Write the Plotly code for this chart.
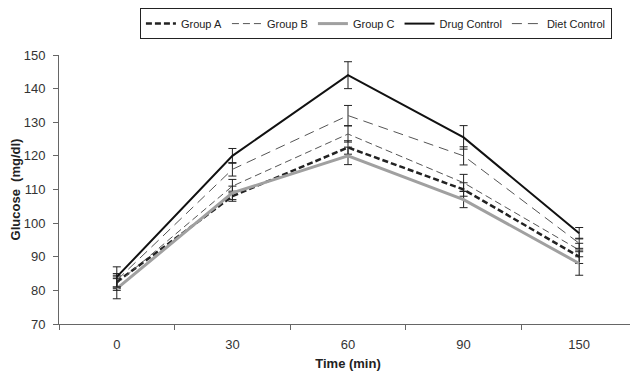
import plotly.graph_objects as go

times = ["0", "30", "60", "90", "150"]

group_a = [82.5, 108, 122.5, 110, 90]
group_a_err = [2.0, 1.5, 2.0, 2.0, 2.0]
group_b = [82, 111, 126.5, 112, 92]
group_b_err = [2.0, 2.0, 2.4, 2.5, 2.0]
group_c = [80.5, 109, 120, 107, 88]
group_c_err = [3.0, 2.0, 2.6, 2.4, 3.5]
drug_control = [84, 120, 144, 125.5, 97]
drug_control_err = [3.0, 2.2, 4.0, 3.5, 1.7]
diet_control = [83, 116, 132, 120, 94]
diet_control_err = [2.0, 2.0, 3.0, 2.7, 1.5]

series = [
    ("Group A", group_a, group_a_err, dict(color="#222222", width=2.5, dash="6px,3px")),
    ("Group B", group_b, group_b_err, dict(color="#555555", width=1, dash="7px,4px")),
    ("Group C", group_c, group_c_err, dict(color="#a0a0a0", width=3)),
    ("Drug Control", drug_control, drug_control_err, dict(color="#111111", width=2)),
    ("Diet Control", diet_control, diet_control_err, dict(color="#555555", width=1, dash="10px,6px")),
]

fig = go.Figure()
for name, vals, errs, line in series:
    fig.add_trace(go.Scatter(
        x=times, y=vals, name=name, mode="lines", line=line,
        error_y=dict(type="data", array=errs, visible=True, color="#222222",
                     thickness=1, width=4),
    ))

axis_font = dict(family="Liberation Sans, Arial, sans-serif", size=13, color="#333333")

fig.update_layout(
    width=630, height=367,
    margin=dict(l=51, r=1, t=46, b=51),
    paper_bgcolor="white", plot_bgcolor="white",
    font=dict(family="Liberation Sans, Arial, sans-serif", size=12, color="#222222"),
    showlegend=True,
    legend=dict(
        orientation="h", x=0.14, xanchor="left", y=1.17, yanchor="top",
        bordercolor="#222222", borderwidth=1, bgcolor="white",
        font=dict(size=11, color="#222222"), tracegroupgap=0, itemwidth=30,
    ),
    xaxis=dict(
        type="category", range=[-0.5, 4.5], tickson="boundaries", ticks="outside", ticklen=5,
        tickcolor="#666666", showline=True, linecolor="#666666", linewidth=1,
        showgrid=False, tickfont=axis_font, automargin=False, ticklabelstandoff=8,
        title=dict(text="<b>Time (min)</b>", font=dict(size=13, color="#222222"), standoff=8),
    ),
    yaxis=dict(
        range=[70, 150], dtick=10, ticks="outside", ticklen=5,
        tickcolor="#666666", showline=True, linecolor="#666666", linewidth=1,
        showgrid=False, zeroline=False, tickfont=axis_font, automargin=False,
        ticklabelstandoff=5,
        title=dict(text="<b>Glucose  (mg/dl)</b>", font=dict(size=13, color="#222222"), standoff=0),
    ),
)

fig.write_html("out.html")
